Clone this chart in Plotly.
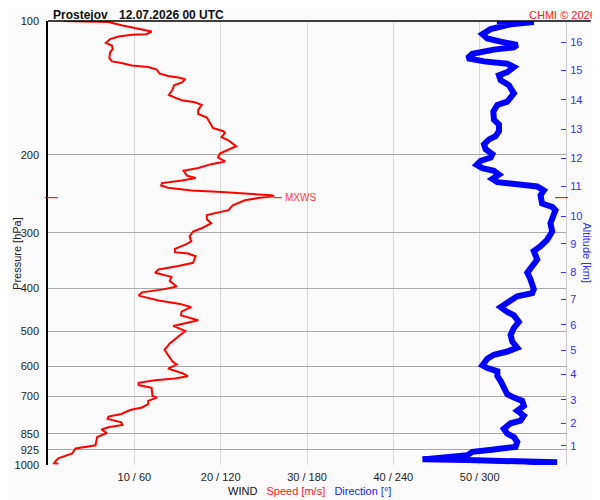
import math
import plotly.graph_objects as go

# Wind speed profile [m/s] vs pressure [hPa]
speed_p = [100.0, 100.5, 102.2, 104.3, 105.6, 107.1, 107.4, 108.4, 109.8, 112.1,
           113.6, 115.6, 117.6, 121.3, 123.3, 124.4, 125.9, 127.0, 128.7, 131.3,
           133.0, 134.1, 135.3, 137.5, 139.5, 143.1, 146.8, 148.8, 150.8, 152.4,
           154.5, 158.5, 162.0, 164.9, 168.3, 174.1, 177.1, 178.6, 182.6, 185.8,
           191.5, 194.8, 198.9, 203.0, 207.2, 210.1, 214.4, 217.4, 223.0, 225.7,
           228.8, 231.8, 234.7, 237.5, 240.8, 242.7, 244.9, 247.0, 248.3, 250.5,
           253.4, 260.0, 266.7, 270.3, 273.6, 279.7, 285.5, 292.9, 297.9, 305.6,
           313.5, 319.0, 326.1, 331.7, 334.1, 338.6, 350.4, 356.4, 362.6, 368.8,
           377.0, 384.8, 396.2, 401.7, 408.5, 415.4, 426.3, 433.7, 441.1, 450.8,
           460.2, 472.1, 486.1, 499.4, 514.2, 532.1, 550.4, 564.6, 584.3, 594.3,
           606.6, 620.4, 631.0, 638.4, 644.0, 653.0, 660.7, 669.9, 698.9, 705.0,
           717.1, 729.3, 742.0, 752.0, 767.5, 778.2, 787.4, 801.3, 812.1, 822.1,
           831.8, 847.7, 865.2, 902.8, 910.6, 918.2, 942.0, 955.0, 966.3, 983.3,
           991.3, 992.0]
speed = [1.8, 7.0, 8.5, 10.9, 12.0, 11.4, 9.7, 8.2, 7.2, 6.7,
         7.4, 7.5, 7.2, 7.1, 7.4, 8.5, 9.7, 11.6, 12.6, 12.9,
         13.9, 15.1, 15.9, 15.5, 14.6, 14.4, 14.0, 14.7, 15.5, 17.0,
         17.8, 17.4, 17.4, 18.4, 18.7, 19.1, 20.3, 20.5, 20.1, 20.9,
         21.8, 20.9, 19.9, 19.7, 20.5, 18.9, 17.4, 15.7, 16.1, 17.1,
         15.5, 13.2, 13.1, 13.9, 16.6, 20.1, 23.2, 25.9, 26.2, 24.3,
         22.8, 21.4, 20.9, 19.7, 18.4, 18.4, 18.9, 17.8, 16.8, 16.4,
         16.6, 15.9, 14.7, 14.7, 16.2, 17.1, 16.8, 15.1, 12.8, 12.4,
         14.3, 14.1, 14.9, 13.5, 10.9, 10.5, 12.8, 15.3, 16.6, 15.5,
         15.4, 17.4, 14.5, 15.9, 15.1, 14.1, 13.5, 13.9, 14.4, 14.9,
         13.9, 15.5, 16.2, 14.7, 12.4, 10.5, 10.5, 12.0, 12.1, 12.6,
         11.6, 11.6, 10.9, 9.5, 8.5, 7.0, 6.9, 8.5, 8.6, 7.0,
         6.2, 6.8, 5.7, 5.5, 4.3, 3.2, 2.8, 2.0, 1.2, 0.8,
         0.7, 1.2]

# Wind direction profile [deg] vs pressure [hPa]
dir_p = [100.0, 100.5, 101.7, 104.3, 107.1, 109.5, 111.3, 113.2, 114.6, 116.0,
         118.6, 121.3, 123.3, 124.8, 127.0, 130.3, 132.5, 136.0, 139.5, 145.5,
         151.9, 154.5, 159.9, 166.8, 171.1, 177.1, 181.7, 184.8, 189.6, 194.5,
         199.5, 203.0, 206.5, 210.8, 214.4, 217.4, 221.8, 226.8, 230.6, 233.4,
         235.9, 240.8, 247.0, 257.7, 262.1, 266.7, 275.9, 285.5, 297.9, 311.0,
         321.6, 329.9, 344.4, 356.4, 368.8, 381.7, 401.7, 410.0, 416.9, 426.3,
         441.1, 452.4, 460.2, 476.2, 491.1, 509.8, 527.5, 544.0, 555.2, 564.6,
         576.4, 596.5, 604.8, 615.1, 631.0, 647.3, 669.9, 693.0, 705.0, 717.1,
         735.6, 754.7, 774.3, 794.3, 805.4, 828.7, 850.4, 865.2, 887.6, 910.6,
         922.8, 934.1, 950.2, 961.4, 971.2, 974.8, 979.7, 986.3, 991.3]
direction = [312, 337.6, 321.5, 307.6, 301.9, 305.3, 314.6, 326.1, 323.8, 309.9,
             294.9, 291.5, 303.0, 319.2, 323.8, 319.2, 313.4, 314.6, 320.3, 323.8,
             319.2, 312.3, 309.5, 309.9, 313.4, 313.4, 311.1, 306.5, 303.0, 304.2,
             308.8, 307.6, 300.7, 297.9, 301.9, 309.9, 313.4, 308.8, 312.3, 328.4,
             340.0, 344.6, 342.3, 343.4, 350.4, 352.7, 350.4, 349.2, 350.4, 346.9,
             342.3, 337.6, 340.0, 336.5, 333.1, 335.3, 337.6, 336.5, 326.1, 321.5,
             314.6, 319.2, 323.8, 327.2, 323.8, 321.5, 322.7, 326.1, 319.2, 309.9,
             305.3, 301.9, 305.3, 312.3, 312.3, 314.6, 316.8, 319.2, 323.8, 329.6,
             330.7, 326.1, 330.7, 328.4, 321.5, 316.8, 319.2, 323.8, 326.1, 324.9,
             309.9, 294.9, 291.5, 268.4, 260.3, 291.5, 326.1, 353.8, 333.1]

p_ticks = [100, 200, 300, 400, 500, 600, 700, 850, 925, 1000]
x_ticks = [10, 20, 30, 40, 50]
x_labels = ["10 / 60", "20 / 120", "30 / 180", "40 / 240", "50 / 300"]

# altitude axis (km) placed at the matching pressure levels
alt_km = list(range(1, 17))
alt_p = [906, 805, 713, 625, 551, 483, 423, 368, 317.5, 275,
         236, 204, 175.5, 150.5, 129.3, 111.6]

mxws_p = 250

fig = go.Figure()

# direction is plotted on the same x axis: 60 m/s <-> 360 deg
fig.add_trace(go.Scatter(
    x=[d / 6 for d in direction], y=dir_p, mode="lines",
    line=dict(color="#0000ff", width=6), showlegend=False,
    hovertemplate="%{customdata}°<br>%{y} hPa<extra></extra>",
    customdata=direction))
fig.add_trace(go.Scatter(
    x=speed, y=speed_p, mode="lines",
    line=dict(color="#ff0000", width=2), showlegend=False,
    hovertemplate="%{x} m/s<br>%{y} hPa<extra></extra>"))
# helper trace so the altitude axis is drawn
fig.add_trace(go.Scatter(
    x=[0] * len(alt_p), y=alt_p, yaxis="y2", mode="markers",
    marker=dict(opacity=0), showlegend=False, hoverinfo="skip"))

font = "Liberation Sans, Arial, sans-serif"

# the page body adds an 8px margin, so the figure is 8px smaller each way
fig.update_layout(
    width=592, height=492,
    margin=dict(l=38, r=34, t=7, b=35),
    paper_bgcolor="#fafafa", plot_bgcolor="#fafafa",
    font=dict(family=font, size=11, color="#222"),
    xaxis=dict(range=[0, 60], tickvals=x_ticks, ticktext=x_labels,
               showgrid=True, gridcolor="#d8d8d8", gridwidth=1,
               zeroline=False, showline=False, ticks="",
               ticklabelstandoff=4, tickfont=dict(size=11, color="#222")),
    yaxis=dict(type="log", range=[3, 2], tickvals=p_ticks,
               ticktext=[str(p) for p in p_ticks],
               showgrid=True, gridcolor="#a8a8a8", gridwidth=1,
               showline=True, linecolor="#000", linewidth=1.5,
               zeroline=False, ticks="", ticklabelstandoff=5,
               tickfont=dict(size=11, color="#222")),
    yaxis2=dict(type="log", range=[3, 2], overlaying="y", side="right",
                tickvals=alt_p, ticktext=[str(k) for k in alt_km],
                showgrid=False, zeroline=False,
                showline=True, linecolor="#cfcfcf", linewidth=1,
                ticks="inside", ticklen=5, tickcolor="#3030ff",
                ticklabelstandoff=1,
                tickfont=dict(size=11, color="#3030ff")),
)

def py(p):
    # paper y of a pressure level on the reversed log axis
    return 3 - math.log10(p)

i_max = speed.index(max(speed))
fig.add_shape(type="line", xref="paper", yref="paper", x0=0, x1=1.048, y0=1, y1=1,
              line=dict(color="#000", width=1.5))
fig.add_shape(type="line", xref="paper", yref="paper", x0=-0.006, x1=0.019,
              y0=py(mxws_p), y1=py(mxws_p), line=dict(color="#e00000", width=1))
fig.add_shape(type="line", xref="paper", yref="paper", x0=0.979, x1=1.004,
              y0=py(mxws_p), y1=py(mxws_p), line=dict(color="#e00000", width=1))
fig.add_shape(type="line", xref="x", yref="paper", x0=speed[i_max], x1=speed[i_max] + 0.9,
              y0=py(mxws_p), y1=py(mxws_p), line=dict(color="#ff0000", width=1))

fig.add_annotation(x=speed[i_max], y=py(mxws_p), xref="x", yref="paper",
                   text="MXWS", showarrow=False, xanchor="left", yanchor="middle",
                   xshift=9, font=dict(size=10, color="#ff3c3c"))
fig.add_annotation(x=0.0077, y=1.0, xref="paper", yref="paper",
                   text="<b>Prostejov</b>", showarrow=False, xanchor="left",
                   yanchor="bottom", yshift=-2, borderpad=0,
                   font=dict(size=12, color="#111"))
fig.add_annotation(x=0.136, y=1.0, xref="paper", yref="paper",
                   text="<b>12.07.2026 00 UTC</b>", showarrow=False, xanchor="left",
                   yanchor="bottom", yshift=-2, borderpad=0,
                   font=dict(size=12, color="#111"))
fig.add_annotation(x=1.0596, y=1.0, xref="paper", yref="paper",
                   text="CHMI © 2026", showarrow=False, xanchor="right",
                   yanchor="bottom", yshift=-1, borderpad=0,
                   font=dict(size=11, color="#ff2020"))
fig.add_annotation(x=-0.0596, y=0.4756, xref="paper", yref="paper",
                   text="Pressure [hPa]", showarrow=False, textangle=-90,
                   xanchor="center", yanchor="middle",
                   font=dict(size=11, color="#222"))
fig.add_annotation(x=1.041, y=0.478, xref="paper", yref="paper",
                   text="Altitude [km]", showarrow=False, textangle=90,
                   xanchor="center", yanchor="middle",
                   font=dict(size=11, color="#3030ff"))
fig.add_annotation(x=0.344, y=-0.0578, xref="paper", yref="paper",
                   text="WIND\u00a0\u00a0\u00a0<span style='color:#ff2020'>Speed [m/s]</span>"
                        "\u00a0\u00a0\u00a0<span style='color:#2020ff'>Direction [°]</span>",
                   showarrow=False, xanchor="left", yanchor="middle",
                   font=dict(size=11, color="#111"))

fig.write_html("out.html")
